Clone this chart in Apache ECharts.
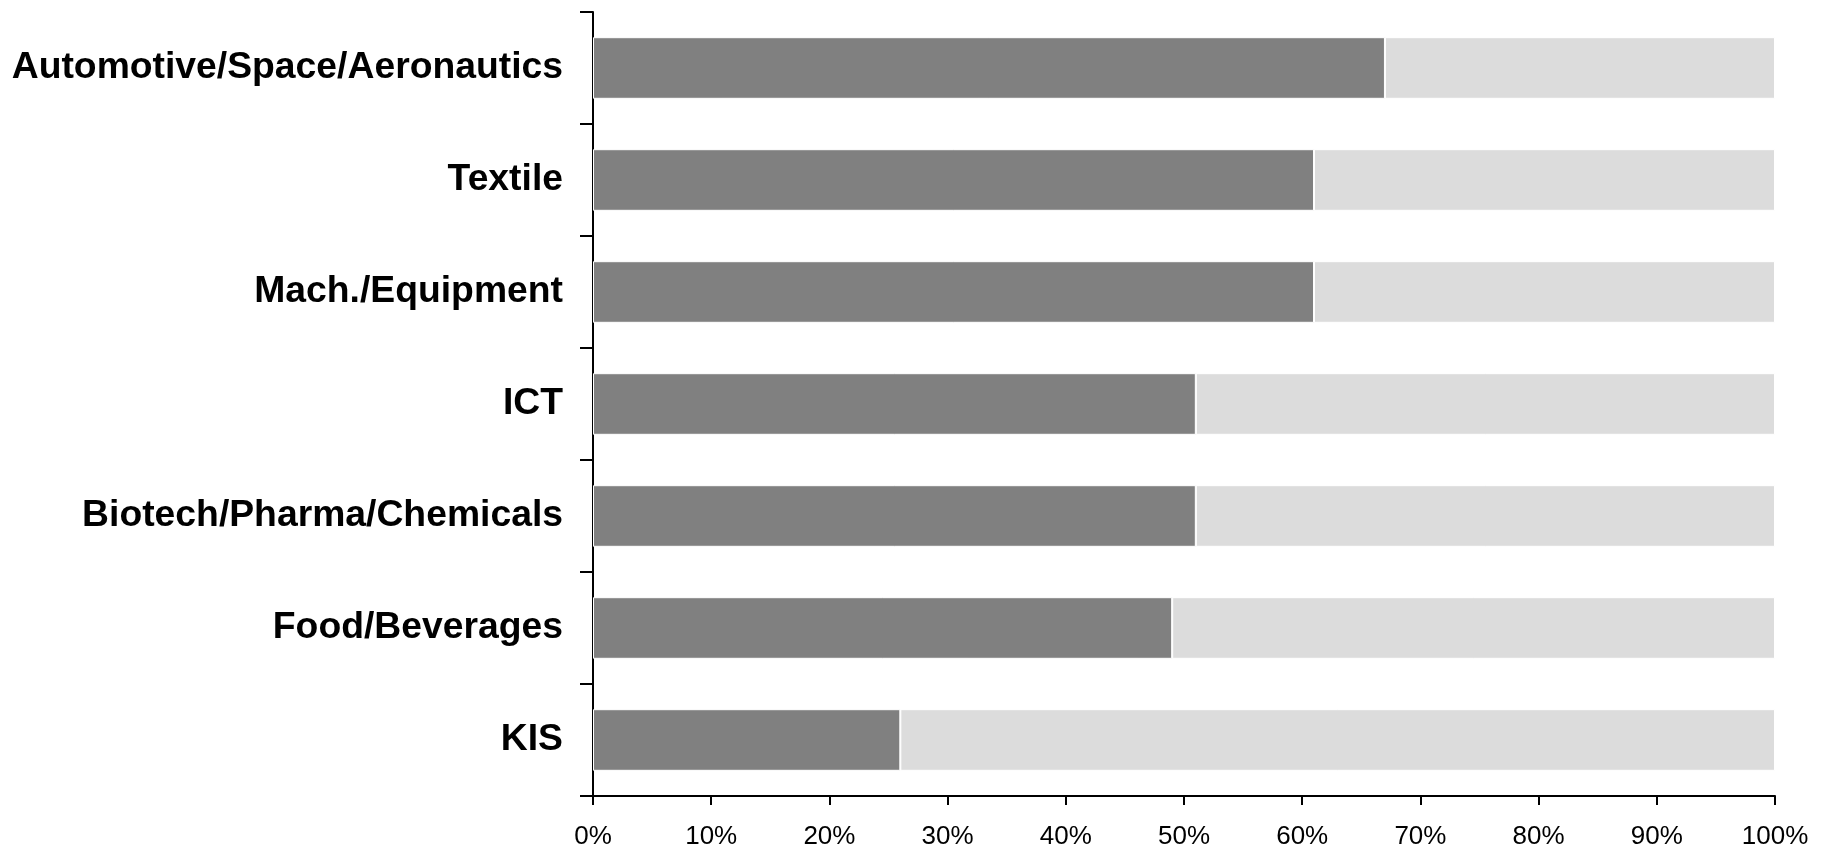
<!DOCTYPE html>
<html>
<head>
<meta charset="utf-8">
<script src="https://cdn.jsdelivr.net/npm/echarts@6/dist/echarts.min.js"></script>
<style>
html,body{margin:0;padding:0;background:#fff;}
#chart{width:1825px;height:850px;}
</style>
</head>
<body>
<div id="chart"></div>
<script>
const categories = ["Automotive/Space/Aeronautics","Textile","Mach./Equipment","ICT","Biotech/Pharma/Chemicals","Food/Beverages","KIS"];
const darkValues = [67, 61, 61, 51, 51, 49, 26];
const lightValues = [33, 39, 39, 49, 49, 51, 74];
const xTicks = [0,10,20,30,40,50,60,70,80,90,100];

const chart = echarts.init(document.getElementById('chart'));
chart.setOption({
  animation: false,
  backgroundColor: '#ffffff',
  grid: {left: 593, right: 50, top: 12, bottom: 52, containLabel: false},
  xAxis: {
    type: 'value', min: 0, max: 100, interval: 10,
    axisLine: {show: true, lineStyle: {color: '#000', width: 2}},
    axisTick: {show: true, length: 9, lineStyle: {color: '#000', width: 2}},
    splitLine: {show: false},
    axisLabel: {formatter: v => v + '%', fontFamily: 'Liberation Sans, Arial', fontSize: 26, color: '#000', margin: 28}
  },
  yAxis: {
    type: 'category', data: categories, inverse: true,
    axisLine: {show: true, lineStyle: {color: '#000', width: 2}},
    axisTick: {show: true, length: 13, lineStyle: {color: '#000', width: 2}},
    axisLabel: {fontFamily: 'Liberation Sans, Arial', fontWeight: 'bold', fontSize: 37.3, color: '#000', margin: 30}
  },
  series: [
    {type: 'bar', stack: 's', data: darkValues, barWidth: '55%',
     itemStyle: {color: '#808080', borderColor: '#fff', borderWidth: 1}},
    {type: 'bar', stack: 's', data: lightValues, barWidth: '55%',
     itemStyle: {color: '#dcdcdc', borderColor: '#fff', borderWidth: 1}}
  ]
});
</script>
</body>
</html>
